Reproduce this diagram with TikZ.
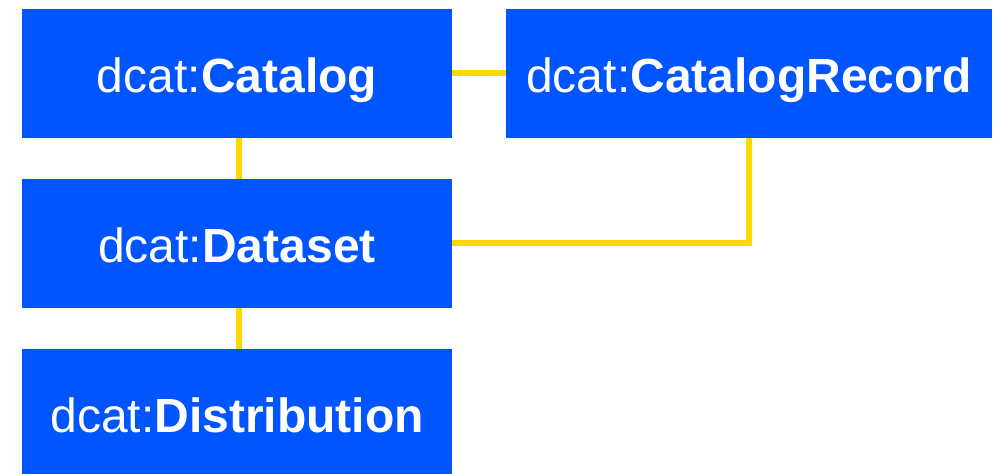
\documentclass[tikz,border=0pt]{standalone}
\usepackage{fontspec}
\setmainfont{Liberation Sans}
\definecolor{dcatblue}{HTML}{0055FF}
\definecolor{dcatyellow}{HTML}{FFD800}

\begin{document}
\begin{tikzpicture}[x=0.5pt, y=-0.5pt,
        classbox/.style={fill=dcatblue, text=white, inner sep=0pt,
            minimum width=215pt, minimum height=64.5pt,
            text height=19pt, text depth=0pt,
            font=\fontsize{24}{28}\selectfont},
        link/.style={draw=dcatyellow, line width=3pt}]
        \useasboundingbox (0,0) rectangle (994,474);

        % Classes
        \node[classbox] (catalog) at (237,73.5) {dcat:\textbf{Catalog}};
        \node[classbox, minimum width=243pt] (record) at (749,73.5) {dcat:\textbf{CatalogRecord}};
        \node[classbox] (dataset) at (237,243.5) {dcat:\textbf{Dataset}};
        \node[classbox] (distribution) at (237,413.5) {dcat:\textbf{Distribution}};

        % Links between the classes
        \draw[link] (catalog.east) -- (record.west);
        \draw[link] ([xshift=1pt]catalog.south) -- ([xshift=1pt]dataset.north);
        \draw[link] (dataset.east) -| (record.south);
        \draw[link] ([xshift=1pt]dataset.south) -- ([xshift=1pt]distribution.north);
\end{tikzpicture}
\end{document}
